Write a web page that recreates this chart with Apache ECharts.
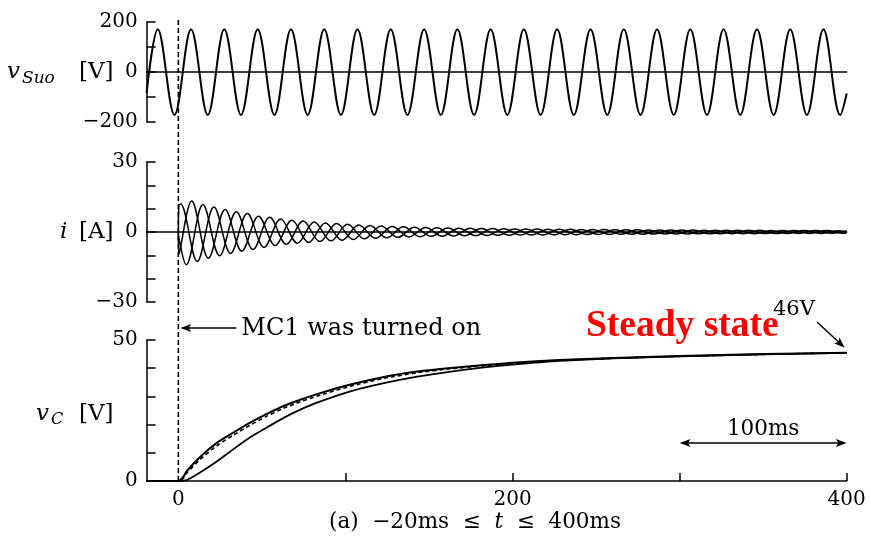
<!DOCTYPE html>
<html>
<head>
<meta charset="utf-8">
<script src="https://cdn.jsdelivr.net/npm/echarts@6/dist/echarts.min.js"></script>
<style>
html, body { margin: 0; padding: 0; background: #fff; }
#chart { width: 871px; height: 542px; }
</style>
</head>
<body>
<div id="chart"></div>
<script>
// supply voltage v_Suo [V]: start, alternating peaks / troughs, end
const vSuoT = [-19, -12.3, -2.3, 7.6, 17.6, 27.5, 37.5, 47.5, 57.5, 67.4, 77.4, 87.3, 97.3,
  107.2, 117.2, 127.1, 137.1, 147.1, 157.1, 167.0, 177.0, 186.9, 196.9, 206.8, 216.8,
  226.7, 236.7, 246.7, 256.7, 266.6, 276.6, 286.5, 296.5, 306.4, 316.4, 326.3, 336.3,
  346.3, 356.3, 366.2, 376.2, 386.1, 396.1, 400]
const vSuoV = [-84, 171, -172, 171, -172, 171, -172, 171, -172, 171, -172, 171, -172,
  171, -172, 171, -172, 171, -172, 171, -172, 171, -172, 171, -172,
  171, -172, 171, -172, 171, -172, 171, -172, 171, -172, 171, -172,
  171, -172, 171, -172, 171, -172, -86]

// three phase currents i [A]: start, then extremes of each phase
const iaT = [0, 0.4, 8, 18, 28, 38, 48, 58, 68, 78, 88, 98, 108, 118, 128, 138, 148, 158, 168, 178,
  188, 198, 208, 218, 228, 238, 248, 258, 268, 278, 288, 298, 308, 318, 328, 338, 348, 358,
  368, 378, 388, 398, 400]
const iaV = [0, -9.5, 13.3, -11.2, 9.6, -8.2, 6.8, -5.8, 5.0, -4.5, 3.9, -3.5, 3.0, -2.7, 2.4, -2.1,
  1.9, -1.8, 1.65, -1.55, 1.45, -1.35, 1.3, -1.25, 1.2, -1.15, 1.1, -1.05, 1.0, -0.95, 0.9, -0.85,
  0.85, -0.8, 0.75, -0.7, 0.7, -0.65, 0.65, -0.6, 0.6, -0.55, -0.45]
const ibT = [0, 0.4, 4.7, 14.7, 24.7, 34.7, 44.7, 54.7, 64.7, 74.7, 84.7, 94.7, 104.7, 114.7, 124.7,
  134.7, 144.7, 154.7, 164.7, 174.7, 184.7, 194.7, 204.7, 214.7, 224.7, 234.7, 244.7, 254.7,
  264.7, 274.7, 284.7, 294.7, 304.7, 314.7, 324.7, 334.7, 344.7, 354.7, 364.7, 374.7, 384.7,
  394.7, 400]
const ibV = [0, -3, -14.0, 11.8, -10.2, 8.7, -7.5, 6.3, -5.3, 4.7, -4.1, 3.6, -3.2, 2.8, -2.5, 2.2,
  -2.0, 1.85, -1.7, 1.6, -1.5, 1.4, -1.3, 1.25, -1.2, 1.15, -1.1, 1.05, -1.0, 0.95, -0.9, 0.85,
  -0.85, 0.8, -0.75, 0.7, -0.7, 0.65, -0.65, 0.6, -0.6, 0.55, -0.05]
const icT = [0, 0.3, 1.3, 11.3, 21.3, 31.3, 41.3, 51.3, 61.3, 71.3, 81.3, 91.3, 101.3, 111.3, 121.3,
  131.3, 141.3, 151.3, 161.3, 171.3, 181.3, 191.3, 201.3, 211.3, 221.3, 231.3, 241.3, 251.3,
  261.3, 271.3, 281.3, 291.3, 301.3, 311.3, 321.3, 331.3, 341.3, 351.3, 361.3, 371.3, 381.3,
  391.3, 400]
const icV = [0, 11.5, 12.0, -12.6, 10.7, -9.2, 7.9, -6.6, 5.6, -4.8, 4.3, -3.8, 3.3, -2.9, 2.6, -2.3,
  2.05, -1.85, 1.75, -1.6, 1.5, -1.4, 1.3, -1.25, 1.2, -1.15, 1.1, -1.05, 1.0, -0.95, 0.9, -0.85,
  0.85, -0.8, 0.75, -0.7, 0.7, -0.65, 0.65, -0.6, 0.6, -0.55, 0.5]

// capacitor voltages v_C [V]
const vCT = [-19, 0, 3, 5, 13, 23, 33, 43, 53, 63, 73, 83, 103, 123, 143, 163, 183, 200, 228, 260, 300, 350, 400]
const vC1 = [0, 0, 1.5, 3.5, 8.5, 13.5, 17.2, 20.7, 23.8, 26.6, 28.8, 30.8, 34.2, 36.9, 38.8, 40.1, 41.1, 41.9, 42.9, 43.6, 44.3, 45.0, 45.5]
const vC2 = [0, 0, 1.0, 2.8, 7.6, 12.5, 16.3, 19.8, 23.0, 25.8, 28.1, 30.1, 33.6, 36.4, 38.4, 39.8, 40.9, 41.7, 42.8, 43.5, 44.2, 44.9, 45.5]
const vC3 = [0, 0, 0.1, 0.3, 3.0, 6.9, 11.3, 15.5, 19.0, 22.4, 25.3, 27.8, 31.8, 34.7, 37.0, 38.8, 40.3, 41.3, 42.6, 43.5, 44.2, 44.9, 45.4]

const xTicks = [100, 200, 300, 400]
const xLabels = [0, 200, 400]

const pair = (ts, vs) => ts.map((t, i) => [t, vs[i]])
const minus = v => (v < 0 ? '\u2212' + (-v) : '' + v)
const SERIF = '"DejaVu Serif", "Liberation Serif", serif'
const TIMES = '"Liberation Serif", serif'

const gridL = 146.6
const gridR = 24.3
const grids = [
  { left: gridL, right: gridR, top: 22, height: 100 },
  { left: gridL, right: gridR, top: 162, height: 140 },
  { left: gridL, right: gridR, top: 340, height: 141 }
]

const axisLine = { show: true, onZero: true, lineStyle: { color: '#000', width: 1.5 } }
const xAxes = grids.map((g, i) => ({
  type: 'value',
  gridIndex: i,
  min: -19,
  max: 400,
  axisLine: axisLine,
  axisTick: i === 2
    ? { show: true, inside: true, length: 8, customValues: xTicks, lineStyle: { color: '#000', width: 1.5 } }
    : { show: false },
  axisLabel: i === 2
    ? { show: true, customValues: xLabels, color: '#000', fontFamily: SERIF, fontSize: 20, margin: 9 }
    : { show: false },
  splitLine: { show: false }
}))

const yAxisBase = (i, min, max, step, shown) => ({
  type: 'value',
  gridIndex: i,
  min: min,
  max: max,
  interval: step,
  axisLine: { show: true, onZero: false, lineStyle: { color: '#000', width: 1.5 } },
  axisTick: { show: true, inside: true, length: 9, lineStyle: { color: '#000', width: 1.5 } },
  axisLabel: {
    color: '#000', fontFamily: SERIF, fontSize: 20, margin: 9,
    formatter: v => (shown.indexOf(v) >= 0 ? minus(v) : '')
  },
  splitLine: { show: false }
})

const yAxes = [
  yAxisBase(0, -200, 200, 100, [-200, 0, 200]),
  yAxisBase(1, -30, 30, 10, [-30, 0, 30]),
  yAxisBase(2, 0, 50, 10, [0, 50])
]

const line = (name, idx, data, extra) => Object.assign({
  name: name,
  type: 'line',
  xAxisIndex: idx,
  yAxisIndex: idx,
  data: data,
  showSymbol: false,
  symbol: 'none',
  smooth: 0.36,
  lineStyle: { color: '#000', width: 1.8 },
  animation: false,
  silent: true
}, extra || {})

const chart = echarts.init(document.getElementById('chart'))
chart.setOption({
  backgroundColor: '#fff',
  animation: false,
  grid: grids,
  xAxis: xAxes,
  yAxis: yAxes,
  series: [
    line('vSuo', 0, pair(vSuoT, vSuoV), { lineStyle: { color: '#000', width: 2 } }),
    line('ia', 1, pair(iaT, iaV), { lineStyle: { color: '#000', width: 1.5 } }),
    line('ib', 1, pair(ibT, ibV), { lineStyle: { color: '#000', width: 1.5 } }),
    line('ic', 1, pair(icT, icV), { lineStyle: { color: '#000', width: 1.5 } }),
    line('vC1', 2, pair(vCT, vC1), { smooth: 0.2, lineStyle: { color: '#000', width: 2 } }),
    line('vC2', 2, pair(vCT, vC2), { smooth: 0.2, lineStyle: { color: '#000', width: 1.6, type: [4, 3] } }),
    line('vC3', 2, pair(vCT, vC3), { smooth: 0.2, lineStyle: { color: '#000', width: 1.8 } })
  ]
})

// annotations placed from axis coordinates
const topPt = chart.convertToPixel({ gridIndex: 0 }, [0, 200])
const botPt = chart.convertToPixel({ gridIndex: 2 }, [0, 0])
const endPt = chart.convertToPixel({ gridIndex: 2 }, [400, vC1[vC1.length - 1]])
const span0 = chart.convertToPixel({ gridIndex: 2 }, [300, 13.5])
const span1 = chart.convertToPixel({ gridIndex: 2 }, [400, 13.5])
const x0 = topPt[0]
const yMC = 328

const txt = (x, y, text, o) => ({
  type: 'text', x: x, y: y, silent: true,
  style: Object.assign({
    text: text, fill: '#000', fontFamily: SERIF, fontSize: 20,
    align: 'left', verticalAlign: 'middle', textAlign: 'left', textVerticalAlign: 'middle'
  }, o || {})
})
const seg = (x1, y1, x2, y2, o) => ({
  type: 'line', silent: true,
  shape: { x1: x1, y1: y1, x2: x2, y2: y2 },
  style: Object.assign({ stroke: '#000', lineWidth: 1.5 }, o || {})
})
const head = (x, y, ang) => {
  const L = 11, W = 4
  const c = Math.cos(ang), s = Math.sin(ang)
  return {
    type: 'polygon', silent: true,
    shape: { points: [[x, y], [x - L * c + W * s, y - L * s - W * c], [x - L * c * 0.75, y - L * s * 0.75], [x - L * c - W * s, y - L * s + W * c]] },
    style: { fill: '#000' }
  }
}

const arrowTipX = endPt[0] - 2
const arrowTipY = endPt[1] - 5
const a46 = Math.atan2(arrowTipY - 322, arrowTipX - 817)

chart.setOption({
  graphic: [
    seg(x0, topPt[1] - 2, x0, botPt[1], { lineDash: [5, 3], lineWidth: 1.6 }),
    seg(x0 + 6, yMC, x0 + 58, yMC),
    head(x0 + 2, yMC, Math.PI),
    txt(x0 + 63, yMC + 1, 'MC1 was turned on', { fontSize: 24 }),
    txt(586, 326, 'Steady state', { fill: '#f00', fontFamily: TIMES, fontWeight: 'bold', fontSize: 37.5 }),
    txt(773, 310, '46V', { fontSize: 21 }),
    seg(817, 322, arrowTipX - 5 * Math.cos(a46), arrowTipY - 5 * Math.sin(a46)),
    head(arrowTipX, arrowTipY, a46),
    seg(span0[0] + 6, span0[1], span1[0] - 6, span1[1]),
    head(span0[0], span0[1], Math.PI),
    head(span1[0], span1[1], 0),
    txt((span0[0] + span1[0]) / 2, span0[1] - 14, '100ms', { fontSize: 21.5, align: 'center', textAlign: 'center' }),
    // axis names
    txt(7, 72, 'v', { fontStyle: 'italic', fontSize: 23 }),
    txt(22, 79, 'Suo', { fontStyle: 'italic', fontSize: 17 }),
    txt(79, 72, '[V]', { fontSize: 23 }),
    txt(60, 232, 'i', { fontStyle: 'italic', fontSize: 23 }),
    txt(79, 232, '[A]', { fontSize: 23 }),
    txt(36, 414, 'v', { fontStyle: 'italic', fontSize: 23 }),
    txt(51, 420, 'C', { fontStyle: 'italic', fontSize: 16 }),
    txt(79, 414, '[V]', { fontSize: 23 }),
    // caption
    {
      type: 'text', x: 475, y: 522, silent: true,
      style: {
        text: '(a)  \u221220ms  \u2264  {i|t}  \u2264  400ms',
        fill: '#000', fontFamily: SERIF, fontSize: 21.5,
        align: 'center', verticalAlign: 'middle', textAlign: 'center', textVerticalAlign: 'middle',
        rich: { i: { fontStyle: 'italic', fontFamily: SERIF, fontSize: 21.5, fill: '#000' } }
      }
    }
  ]
})
</script>
</body>
</html>
